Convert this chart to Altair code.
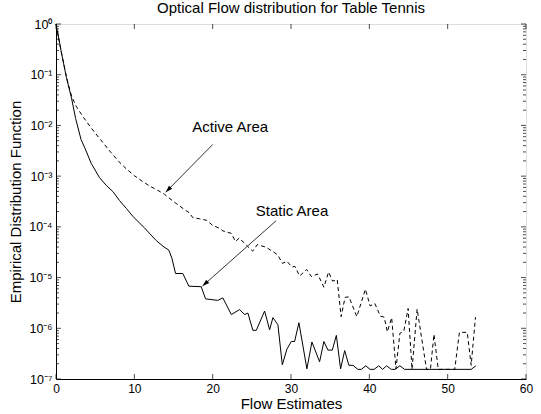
import altair as alt
import pandas as pd

FONT = "Liberation Sans"

title_text = "Optical Flow distribution for Table Tennis"
x_title = "Flow Estimates"
y_title = "Empirical Distribution Function"

x_ticks = [0, 10, 20, 30, 40, 50, 60]
y_ticks = [1e-7, 1e-6, 1e-5, 1e-4, 1e-3, 1e-2, 1e-1, 1]
y_tick_labels = ["10⁰", "10⁻¹", "10⁻²", "10⁻³", "10⁻⁴", "10⁻⁵", "10⁻⁶", "10⁻⁷"]

# Static Area (solid): x and log10 of the value
static_x = [0, 0.7, 1.34, 1.98, 2.5, 3.2, 3.7, 4.5, 5.56, 6.4, 7.3, 8.1, 9.0, 9.8, 10.5,
            11.3, 12.0, 12.8, 13.64, 14.41, 14.8, 15.26, 16.19, 16.96, 18.54, 19.09, 20.66,
            21.30, 22.38, 23.44, 24.07, 24.50, 25.13, 25.57, 26.63, 27.27, 27.69, 28.33,
            28.89, 29.48, 30.04, 30.46, 31.01, 32.03, 32.67, 33.65, 34.20, 34.71, 35.27,
            35.79, 36.33, 36.85, 37.39, 37.91, 38.54, 38.98, 39.55, 40.1, 40.6, 41.2, 41.7,
            42.2, 42.8, 43.3, 43.9, 44.5, 53.0, 53.6]
static_log = [0, -0.57, -1.06, -1.46, -1.86, -2.28, -2.45, -2.75, -3.03, -3.18, -3.31, -3.48,
              -3.64, -3.79, -3.90, -4.02, -4.14, -4.27, -4.38, -4.46, -4.62, -4.92, -4.92,
              -5.17, -5.18, -5.42, -5.45, -5.40, -5.73, -5.63, -5.73, -5.70, -6.04, -6.04,
              -5.66, -6.03, -5.79, -5.93, -6.72, -6.41, -6.26, -6.26, -5.89, -6.80, -6.27,
              -6.66, -6.26, -6.43, -6.43, -6.14, -6.80, -6.44, -6.73, -6.73, -6.81, -6.81,
              -6.74, -6.81, -6.81, -6.74, -6.81, -6.74, -6.81, -6.81, -6.74, -6.81, -6.81,
              -6.74]

# Active Area (dashed)
active_x = [0, 0.7, 1.34, 1.98, 2.6, 3.5, 4.3, 5.0, 6.0, 7.0, 8.0, 9.0, 10.0, 11.0, 12.0,
            13.0, 13.86, 15.0, 16.5, 17.0, 17.47, 18.3, 19.2, 20.0, 20.9, 21.3, 22.4, 22.9,
            23.4, 24.3, 25.1, 25.7, 26.8, 28.3, 28.9, 29.5, 30.1, 30.5, 31.1, 32.0, 32.6,
            33.4, 34.2, 34.8, 35.3, 35.9, 36.4, 36.9, 37.4, 38.4, 39.5, 40.1, 40.7, 41.4,
            41.9, 42.3, 42.85, 43.4, 43.9, 44.4, 44.95, 45.45, 46.1, 47.3, 47.8, 48.25,
            48.8, 50.9, 51.5, 52.5, 53.0, 53.55]
active_log = [0, -0.57, -1.05, -1.42, -1.63, -1.84, -2.01, -2.15, -2.34, -2.53, -2.71, -2.86,
              -2.99, -3.10, -3.20, -3.28, -3.36, -3.50, -3.67, -3.72, -3.82, -3.84, -3.87,
              -3.97, -4.03, -4.08, -4.13, -4.29, -4.22, -4.36, -4.48, -4.35, -4.40, -4.55,
              -4.72, -4.68, -4.79, -4.78, -4.97, -4.84, -4.98, -4.93, -5.19, -4.89, -5.07,
              -5.04, -5.77, -5.39, -5.38, -5.77, -5.23, -5.56, -5.51, -5.76, -5.78, -6.07,
              -5.79, -6.80, -6.10, -6.06, -5.61, -6.81, -5.62, -6.81, -6.81, -6.12, -6.81,
              -6.81, -6.08, -6.08, -6.73, -5.78]

# annotations
annot_text = ["Active Area", "Static Area"]
annot_x = [17.4, 25.5]
annot_v = [9.5e-3, 2.05e-4]
arrow_x = [20.0, 28.1]
arrow_v = [4.2e-3, 1.32e-4]
arrow_x2 = [14.0, 18.7]
arrow_v2 = [4.8e-4, 6.8e-6]
arrow_angle = [224, 228]

W, H = 470, 355

static_df = pd.DataFrame({"x": static_x, "v": [10 ** e for e in static_log]})
active_df = pd.DataFrame({"x": active_x, "v": [10 ** e for e in active_log]})
text_df = pd.DataFrame({"x": annot_x, "v": annot_v, "t": annot_text})
arrow_df = pd.DataFrame({"x": arrow_x, "v": arrow_v, "x2": arrow_x2, "v2": arrow_v2})
head_df = pd.DataFrame({"x": arrow_x2, "v": arrow_v2, "a": arrow_angle})

xscale = alt.Scale(domain=[0, 60], nice=False, zero=False)
yscale = alt.Scale(type="log", domain=[1e-7, 1], nice=False)

label_arr = "[" + ",".join("'%s'" % s for s in y_tick_labels) + "]"

x_axis = alt.Axis(values=x_ticks, title=x_title, ticks=False, grid=False,
                  labelFont=FONT, labelFontSize=12, labelColor="#000", labelPadding=4,
                  titleFont=FONT, titleFontSize=15, titleFontWeight="normal",
                  titleColor="#000", titlePadding=2, domainColor="#000", labelFlush=False)
y_axis = alt.Axis(values=y_ticks, title=y_title, ticks=False, grid=False,
                  labelExpr=label_arr + "[-round(log(datum.value)/LN10)]",
                  labelFont=FONT, labelFontSize=12.5, labelColor="#000", labelPadding=4,
                  titleFont=FONT, titleFontSize=15, titleFontWeight="normal",
                  titleColor="#000", titlePadding=5, domainColor="#000", labelFlush=False)


def X(field="x"):
    return alt.X(field + ":Q", scale=xscale, axis=x_axis)


def Y(field="v"):
    return alt.Y(field + ":Q", scale=yscale, axis=y_axis)


static_line = alt.Chart(static_df).mark_line(color="#000", strokeWidth=1).encode(
    x=X(), y=Y(), order="x:Q")
active_line = alt.Chart(active_df).mark_line(
    color="#000", strokeWidth=1, strokeDash=[4, 3]).encode(x=X(), y=Y(), order="x:Q")

texts = alt.Chart(text_df).mark_text(
    align="left", baseline="middle", font=FONT, fontSize=15, color="#000").encode(
    x=X(), y=Y(), text="t:N")

arrows = alt.Chart(arrow_df).mark_rule(color="#333", strokeWidth=1).encode(
    x=X(), y=Y(), x2="x2:Q", y2="v2:Q")

heads = alt.Chart(head_df).mark_point(
    shape="M0,0 L-0.32,1 L0.32,1 Z", filled=True, color="#000", size=200, opacity=1).encode(
    x=X(), y=Y(), angle=alt.Angle("a:Q", scale=None))

# inward tick marks (MATLAB-style box)
xt_df = pd.DataFrame({"x": x_ticks})
minor_vals = [m * 10.0 ** k for k in range(-7, 0) for m in range(2, 10)]
yt_df = pd.DataFrame({"v": y_ticks})
ym_df = pd.DataFrame({"v": minor_vals})

xt_bottom = alt.Chart(xt_df).mark_tick(color="#000", thickness=1, size=5).encode(
    x=X(), y=alt.value(H - 2.5))
xt_top = alt.Chart(xt_df).mark_tick(color="#000", thickness=1, size=5).encode(
    x=X(), y=alt.value(2.5))
yt_left = alt.Chart(yt_df).mark_tick(color="#000", thickness=1, size=5).encode(
    y=Y(), x=alt.value(2.5))
yt_right = alt.Chart(yt_df).mark_tick(color="#000", thickness=1, size=5).encode(
    y=Y(), x=alt.value(W - 2.5))
ym_left = alt.Chart(ym_df).mark_tick(color="#000", thickness=1, size=3).encode(
    y=Y(), x=alt.value(1.5))
ym_right = alt.Chart(ym_df).mark_tick(color="#000", thickness=1, size=3).encode(
    y=Y(), x=alt.value(W - 1.5))

chart = alt.layer(
    active_line, static_line, arrows, heads, texts,
    xt_bottom, xt_top, yt_left, yt_right, ym_left, ym_right
).properties(
    width=W, height=H,
    title=alt.TitleParams(title_text, font=FONT, fontSize=15, fontWeight="normal",
                          color="#000", anchor="middle", offset=0, baseline="bottom", dy=13),
    autosize=alt.AutoSizeParams(type="none"),
    padding={"left": 56, "top": 24, "right": 15, "bottom": 35},
).configure_view(stroke="#000", strokeWidth=1).configure(background="white")

chart.save("out.html", embed_options={"renderer": "svg", "actions": False})
